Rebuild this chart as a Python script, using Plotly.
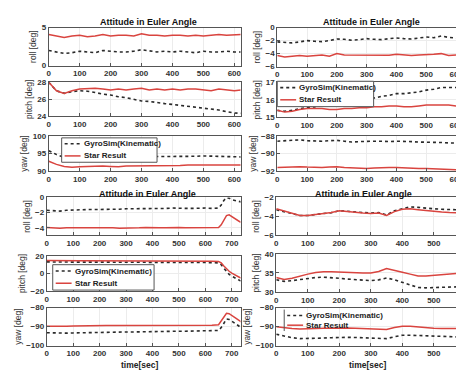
import plotly.graph_objects as go

W, H = 464, 370

# ---------------- data ----------------
t_top = [0, 25, 50, 75, 100, 125, 150, 175, 200, 225, 250, 275, 300, 325, 350,
         375, 400, 425, 450, 475, 500, 525, 550, 575, 600, 625]
t_bl = [0, 25, 50, 75, 100, 125, 150, 175, 200, 225, 250, 275, 300, 325, 350,
        375, 400, 425, 450, 475, 500, 525, 550, 575, 600, 625, 650,
        660, 670, 680, 690, 700, 715, 730, 745, 760]

# Top-left panel
tl_roll_gyro = [2.0, 1.8, 1.6, 1.7, 1.9, 1.8, 1.7, 2.0, 1.9, 1.8, 1.8, 1.9, 2.1,
                1.9, 1.8, 1.9, 1.8, 1.9, 1.8, 1.7, 1.9, 1.8, 1.8, 1.9, 1.8, 1.8]
tl_roll_star = [4.1, 3.9, 3.7, 3.9, 4.0, 3.8, 3.9, 4.1, 3.9, 4.0, 4.0, 3.9, 4.2,
                4.0, 4.0, 3.9, 4.0, 4.0, 3.9, 4.0, 3.9, 4.0, 4.1, 4.0, 4.1, 4.1]
tl_pitch_gyro = [28.0, 27.0, 26.7, 26.9, 27.0, 26.95, 26.8, 26.6, 26.5, 26.3, 26.2,
                 26.0, 25.8, 25.75, 25.6, 25.5, 25.4, 25.3, 25.2, 25.1, 25.0, 24.9,
                 24.75, 24.55, 24.4, 24.35]
tl_pitch_star = [28.0, 27.0, 26.7, 27.0, 27.2, 27.25, 27.3, 27.2, 27.1, 27.2, 27.1,
                 27.2, 27.3, 27.1, 27.2, 27.1, 27.2, 27.1, 27.2, 27.2, 27.1, 27.0,
                 27.2, 27.1, 27.0, 27.1]
tl_yaw_gyro = [95.8, 94.7, 93.9, 93.8, 93.9, 94.0, 94.0, 94.1, 94.1, 94.0, 94.1,
               94.1, 94.0, 94.0, 94.1, 94.1, 94.0, 94.0, 94.1, 94.2, 94.3, 94.2,
               94.1, 94.0, 94.0, 94.0]
tl_yaw_star = [92.8, 91.9, 91.3, 91.1, 91.2, 91.3, 91.3, 91.4, 91.3, 91.2, 91.4,
               91.4, 91.5, 91.4, 91.5, 91.5, 91.6, 91.6, 91.7, 91.7, 91.8, 91.7,
               91.7, 91.6, 91.7, 91.7]

# Top-right panel
tr_roll_gyro = [-2.2, -2.3, -2.35, -2.2, -2.0, -2.1, -2.15, -2.0, -1.75, -1.8, -1.95,
                -1.85, -1.7, -1.8, -1.85, -1.7, -1.6, -1.7, -1.75, -1.6, -1.45, -1.55,
                -1.3, -1.5, -1.6, -1.4]
tr_roll_star = [-4.3, -4.5, -4.4, -4.3, -4.4, -4.3, -4.2, -4.4, -4.0, -4.2, -4.2,
                -4.3, -4.2, -4.2, -4.3, -4.25, -4.1, -4.2, -4.3, -4.2, -4.2, -4.1,
                -4.0, -4.3, -4.2, -4.3]
tr_pitch_gyro = [15.4, 15.35, 15.4, 15.5, 15.55, 15.6, 15.7, 15.8, 15.9, 15.95, 16.0,
                 16.05, 16.1, 16.1, 16.2, 16.25, 16.35, 16.35, 16.4, 16.45, 16.55,
                 16.6, 16.7, 16.7, 16.7, 16.7]
tr_pitch_star = [15.4, 15.3, 15.35, 15.45, 15.5, 15.5, 15.5, 15.45, 15.45, 15.5, 15.5,
                 15.55, 15.55, 15.6, 15.6, 15.65, 15.65, 15.6, 15.6, 15.65, 15.7,
                 15.7, 15.7, 15.7, 15.65, 15.65]
tr_yaw_gyro = [-88.6, -88.55, -88.5, -88.45, -88.55, -88.6, -88.6, -88.55, -88.5,
               -88.6, -88.7, -88.65, -88.6, -88.6, -88.6, -88.65, -88.6, -88.6,
               -88.65, -88.7, -88.7, -88.7, -88.75, -88.8, -88.8, -88.8]
tr_yaw_star = [-91.6, -91.55, -91.5, -91.5, -91.55, -91.6, -91.6, -91.55, -91.5,
               -91.6, -91.65, -91.7, -91.7, -91.65, -91.6, -91.6, -91.6, -91.65,
               -91.7, -91.7, -91.7, -91.75, -91.8, -91.8, -91.85, -91.85]

# Bottom-left panel
bl_roll_gyro = [-1.7, -1.75, -1.8, -1.7, -1.65, -1.6, -1.6, -1.6, -1.6, -1.55, -1.6,
                -1.55, -1.5, -1.5, -1.5, -1.5, -1.5, -1.45, -1.45, -1.4, -1.45, -1.45,
                -1.45, -1.4, -1.4, -1.45, -1.4,
                -1.0, -0.4, -0.05, -0.1, -0.3, -0.45, -0.6, -0.7, -0.8]
bl_roll_star = [-3.95, -4.0, -4.05, -4.0, -4.0, -3.95, -4.0, -4.0, -4.0, -4.0, -4.0,
                -4.05, -4.05, -4.0, -4.0, -3.95, -4.0, -4.0, -4.0, -3.95, -3.95, -4.0,
                -4.0, -4.0, -3.95, -4.0, -3.95,
                -3.6, -3.0, -2.4, -2.3, -2.5, -2.9, -3.2, -3.3, -3.4]
bl_pitch_gyro = [13.2, 13.0, 12.8, 13.0, 13.1, 12.9, 13.0, 13.0, 12.9, 13.0, 12.9,
                 12.9, 12.8, 12.8, 12.9, 12.8, 12.8, 12.7, 12.8, 12.7, 12.7, 12.6,
                 12.6, 12.6, 12.5, 12.4, 12.0,
                 10.0, 6.0, 2.0, -1.0, -3.0, -6.0, -8.0, -9.0, -10.0]
bl_pitch_star = [14.8, 14.6, 14.5, 14.6, 14.7, 14.5, 14.6, 14.6, 14.5, 14.6, 14.5,
                 14.5, 14.4, 14.4, 14.5, 14.4, 14.4, 14.3, 14.4, 14.3, 14.3, 14.2,
                 14.2, 14.2, 14.1, 14.0, 13.6,
                 12.0, 8.5, 5.0, 2.5, 0.5, -2.5, -4.5, -5.5, -6.5]
bl_yaw_gyro = [-93.2, -93.3, -93.6, -93.4, -93.3, -93.2, -93.1, -93.1, -93.0, -93.0,
               -92.9, -92.9, -92.8, -92.8, -92.7, -92.7, -92.6, -92.6, -92.5, -92.5,
               -92.4, -92.4, -92.3, -92.3, -92.2, -92.2, -92.0,
               -90.5, -88.0, -86.0, -86.2, -87.0, -88.5, -90.0, -91.0, -92.0]
bl_yaw_star = [-89.8, -89.9, -90.0, -89.8, -89.6, -89.5, -89.4, -89.4, -89.4, -89.4,
               -89.4, -89.4, -89.4, -89.4, -89.3, -89.3, -89.3, -89.3, -89.3, -89.3,
               -89.3, -89.3, -89.3, -89.3, -89.3, -89.3, -89.0,
               -87.0, -84.5, -83.0, -83.2, -84.0, -85.5, -87.0, -88.0, -89.0]

# Bottom-right panel
br_roll_gyro = [-3.3, -3.5, -3.7, -3.9, -3.9, -3.8, -3.7, -3.6, -3.4, -3.45, -3.55,
                -3.6, -3.65, -3.6, -3.85, -3.4, -3.2, -3.0, -3.05, -3.15, -3.2, -3.25,
                -3.3, -3.3, -3.3, -3.3]
br_roll_star = [-3.2, -3.45, -3.7, -3.9, -3.9, -3.8, -3.7, -3.6, -3.4, -3.5, -3.6,
                -3.65, -3.7, -3.65, -3.9, -3.5, -3.25, -3.2, -3.3, -3.4, -3.5, -3.55,
                -3.6, -3.6, -3.65, -3.65]
br_pitch_gyro = [33.2, 32.8, 33.0, 33.3, 33.6, 33.8, 33.9, 33.8, 33.6, 33.4, 33.3,
                 33.2, 33.0, 33.2, 33.7, 33.2, 32.5, 31.8, 31.2, 31.1, 31.2, 31.3,
                 31.3, 31.4, 31.5, 31.5]
br_pitch_star = [33.8, 33.3, 33.6, 34.2, 34.7, 35.1, 35.3, 35.3, 35.2, 35.1, 35.0,
                 35.0, 35.0, 35.4, 36.2, 35.6, 35.2, 34.7, 34.2, 34.2, 34.4, 34.6,
                 34.8, 35.0, 35.1, 35.2]
br_yaw_gyro = [-94.0, -95.0, -95.8, -96.3, -96.3, -96.1, -96.0, -95.8, -95.6, -95.6,
               -95.7, -95.8, -95.9, -96.0, -96.3, -95.3, -94.5, -94.5, -94.7, -94.9,
               -95.1, -95.2, -95.3, -95.4, -95.5, -95.5]
br_yaw_star = [-90.0, -90.7, -91.0, -91.2, -91.2, -91.0, -90.8, -90.7, -90.6, -90.7,
               -90.8, -90.9, -91.0, -91.2, -91.5, -90.5, -89.8, -89.8, -90.2, -90.5,
               -90.8, -91.0, -91.0, -91.0, -91.0, -91.0]

x_ticks = [0, 100, 200, 300, 400, 500, 600, 700]
tl_yticks = [[0, 5], [24, 26, 28], [90, 95, 100]]
tr_yticks = [[-6, -4, -2, 0], [15, 16, 17], [-92, -90, -88]]
bl_yticks = [[-4, -2, 0], [-20, 0, 20], [-100, -90, -80]]
br_yticks = [[-6, -4, -2], [30, 35, 40], [-100, -90, -80]]

series_names = ["GyroSim(Kinematic)", "Star Result"]
row_labels = ["roll [deg]", "pitch [deg]", "yaw [deg]"]
title_text = "Attitude in Euler Angle"
xlabel_text = "time[sec]"

# ---------------- layout / style ----------------
FONT = "Liberation Sans"
panels = [
    dict(t=t_top, x=(39, 232), xr=[0, 620],
         y=[(16, 55), (72, 107), (127, 163)],
         data=[(tl_roll_gyro, tl_roll_star), (tl_pitch_gyro, tl_pitch_star),
               (tl_yaw_gyro, tl_yaw_star)],
         yr=[[0, 5], [24, 28], [90, 100]], yt=tl_yticks,
         legend=dict(box=(52, 129, 148, 154), items=(135, 147.5), x0=55, fill=True),
         title_pos=(139, 10), xlabel=None),
    dict(t=t_top, x=(269, 464), xr=[0, 650],
         y=[(16, 56), (72, 108), (127, 163)],
         data=[(tr_roll_gyro, tr_roll_star), (tr_pitch_gyro, tr_pitch_star),
               (tr_yaw_gyro, tr_yaw_star)],
         yr=[[-6, 0], [15, 17], [-92, -88]], yt=tr_yticks,
         legend=dict(box=(269, 71, 366, 97), items=(77.5, 90), x0=272, fill=True),
         title_pos=(364, 10), xlabel=None),
    dict(t=t_bl, x=(37, 232), xr=[0, 733],
         y=[(190, 229), (250, 286), (303, 342)],
         data=[(bl_roll_gyro, bl_roll_star), (bl_pitch_gyro, bl_pitch_star),
               (bl_yaw_gyro, bl_yaw_star)],
         yr=[[-5, 0], [-20, 20], [-100, -80]], yt=bl_yticks,
         legend=dict(box=(43, 259, 145, 285), items=(265.5, 278), x0=46, fill=True),
         title_pos=(138, 187), xlabel=(130, 362)),
    dict(t=t_top, x=(268, 464), xr=[0, 618],
         y=[(190, 229), (248, 287), (303, 342)],
         data=[(br_roll_gyro, br_roll_star), (br_pitch_gyro, br_pitch_star),
               (br_yaw_gyro, br_yaw_star)],
         yr=[[-6, -2], [30, 40], [-100, -80]], yt=br_yticks,
         legend=dict(box=(276, 305, 372, 327), items=(311, 321), x0=279, fill=False),
         title_pos=(356, 187), xlabel=(360, 362)),
]

line_styles = [dict(color="#2a2a2a", width=1.6, dash="dot"),
               dict(color="#d9443f", width=1.5, dash="solid")]

fig = go.Figure()
layout = dict(width=W, height=H, margin=dict(l=0, r=0, t=0, b=0),
              paper_bgcolor="white", plot_bgcolor="white", showlegend=False,
              font=dict(family=FONT, size=8, color="#333"))
annotations = []
shapes = []


def px(x):
    return x / W


def py(y):
    return 1 - y / H


k = 0
for pi, p in enumerate(panels):
    for r in range(3):
        k += 1
        xs = "" if k == 1 else str(k)
        gyro, star = p["data"][r]
        for si, vals in enumerate((gyro, star)):
            fig.add_trace(go.Scatter(
                x=p["t"], y=vals, mode="lines", name=series_names[si],
                line=line_styles[si], xaxis="x" + xs, yaxis="y" + xs,
                legendgroup=series_names[si], showlegend=False))
        y0, y1 = p["y"][r]
        layout["xaxis" + xs] = dict(
            domain=[px(p["x"][0]), px(p["x"][1])], anchor="y" + xs,
            range=p["xr"], tickvals=x_ticks, showgrid=True, gridcolor="#ececec",
            zeroline=False, showline=True, linecolor="#555", linewidth=1,
            mirror=True, ticks="inside", ticklen=3, tickcolor="#555",
            tickfont=dict(size=8, family=FONT, color="#333", weight="bold"))
        layout["yaxis" + xs] = dict(
            domain=[py(y1), py(y0)], anchor="x" + xs,
            range=p["yr"][r], tickvals=p["yt"][r], showgrid=True,
            gridcolor="#ececec", zeroline=False, showline=True, linecolor="#555",
            linewidth=1, mirror=True, ticks="inside", ticklen=3, tickcolor="#555",
            tickfont=dict(size=8, family=FONT, color="#333", weight="bold"),
            title=dict(text=row_labels[r], standoff=3,
                       font=dict(size=8.5, family=FONT, color="#333")))

    # legend (drawn in paper space)
    lg = p["legend"]
    bx0, by0, bx1, by1 = lg["box"]
    if lg["fill"]:
        shapes.append(dict(type="rect", xref="paper", yref="paper",
                           x0=px(bx0), x1=px(bx1), y0=py(by1), y1=py(by0),
                           fillcolor="white", line=dict(color="#555", width=1)))
    else:
        shapes.append(dict(type="line", xref="paper", yref="paper",
                           x0=px(bx0), x1=px(bx0), y0=py(by1), y1=py(by0),
                           line=dict(color="#555", width=1)))
    for si, iy in enumerate(lg["items"]):
        shapes.append(dict(type="line", xref="paper", yref="paper",
                           x0=px(lg["x0"]), x1=px(lg["x0"] + 16),
                           y0=py(iy), y1=py(iy), line=line_styles[si]))
        annotations.append(dict(
            text=series_names[si], x=px(lg["x0"] + 17), y=py(iy),
            xref="paper", yref="paper", xanchor="left", yanchor="middle",
            showarrow=False,
            font=dict(size=8, family=FONT, color="#222", weight="bold")))

    tx, ty = p["title_pos"]
    annotations.append(dict(
        text=title_text, x=px(tx), y=py(ty), xref="paper", yref="paper",
        xanchor="center", yanchor="middle", showarrow=False,
        font=dict(size=9, family=FONT, color="#111", weight="bold")))
    if p["xlabel"]:
        lx, ly = p["xlabel"]
        annotations.append(dict(
            text=xlabel_text, x=px(lx), y=py(ly), xref="paper", yref="paper",
            xanchor="center", yanchor="middle", showarrow=False,
            font=dict(size=8.5, family=FONT, color="#222", weight="bold")))

layout["annotations"] = annotations
layout["shapes"] = shapes
fig.update_layout(**layout)
fig.write_html("out.html")
